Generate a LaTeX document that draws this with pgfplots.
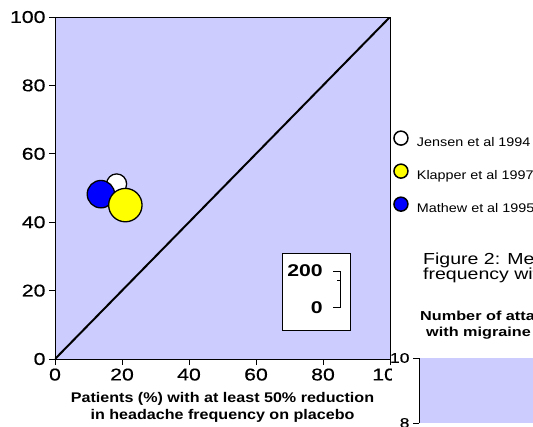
\documentclass[border=0pt]{standalone}
\usepackage{fontspec}
\setmainfont{Liberation Sans}
\newfontfamily\tickf[FakeStretch=1.25,FakeBold=0.5]{Liberation Sans}
\newfontfamily\keyf[FakeStretch=1.25]{Liberation Sans}
\newfontfamily\labf[FakeStretch=1.15]{Liberation Sans}
\newfontfamily\figf[FakeStretch=1.22]{Liberation Sans}
\newfontfamily\figb[FakeStretch=1.25]{Liberation Sans}
\usepackage{pgfplots}
\pgfplotsset{compat=1.18}
\definecolor{lav}{RGB}{204,204,255}
\definecolor{myyellow}{RGB}{255,255,0}
\definecolor{myblue}{RGB}{0,0,255}
\begin{document}
\begin{tikzpicture}
\useasboundingbox (0pt,-426pt) rectangle (533pt,0pt);
\begin{axis}[
  at={(55pt,-359pt)}, anchor=south west,
  scale only axis, width=335pt, height=342pt,
  xmin=0, xmax=100, ymin=0, ymax=100,
  axis background/.style={fill=lav},
  axis line style={black, line width=0.8pt},
  xtick={0,20,40,60,80,100}, ytick={0,20,40,60,80,100},
  xtick pos=left, ytick pos=left,
  tick align=outside, major tick length=6pt,
  tick style={black, line width=0.8pt},
  /pgf/number format/assume math mode=true,
  tick label style={font=\tickf\fontsize{17}{17}\selectfont},
  xlabel={Patients (\%) with at least 50\% reduction\\in headache frequency on placebo},
  xlabel style={align=center, font=\labf\bfseries\fontsize{14}{17}\selectfont,
    at={(axis description cs:0.5,0)}, anchor=north, yshift=-30pt},
  legend style={at={(1.0,0.675)}, anchor=north west, draw=none, fill=none,
    font=\labf\fontsize{12.5}{12.5}\selectfont, row sep=13.5pt, legend cell align=left},
  legend image code/.code={\path[draw=none, fill=none] (0pt,0pt) -- (21pt,0pt);\draw[#1, draw=black, line width=1.5pt] (7pt,4.5pt) circle (7pt);},
]
\addlegendimage{fill=white}
\addlegendentry{Jensen et al 1994}
\addlegendimage{fill=myyellow}
\addlegendentry{Klapper et al 1997}
\addlegendimage{fill=myblue}
\addlegendentry{Mathew et al 1995}
\addplot[black, line width=2pt, forget plot] coordinates {(0,0) (100,100)};
\addplot[only marks, mark=*, mark size=10pt, mark options={draw=black, fill=white, line width=1.3pt}, forget plot] coordinates {(18.4,51.2)};
\addplot[only marks, mark=*, mark size=13.7pt, mark options={draw=black, fill=myblue, line width=1.3pt}, forget plot] coordinates {(13.7,48.2)};
\addplot[only marks, mark=*, mark size=16.7pt, mark options={draw=black, fill=myyellow, line width=1.3pt}, forget plot] coordinates {(21.0,45.0)};
\end{axis}
\fill[white] (391.5pt,-362pt) rectangle (418pt,-426pt);
\begin{axis}[
  at={(419pt,-423pt)}, anchor=south west,
  scale only axis, width=200pt, height=65pt,
  xmin=0, xmax=1, ymin=8, ymax=10,
  axis x line=none, axis y line*=left,
  axis line style={black, line width=0.8pt, -},
  axis background/.style={fill=lav},
  ytick={8,10}, tick align=outside, major tick length=6pt,
  tick style={black, line width=0.8pt},
  /pgf/number format/assume math mode=true,
  tick label style={font=\tickf\fontsize{14}{14}\selectfont},
]
\addplot[draw=none] coordinates {(0,8) (1,10)};
\end{axis}
% size key
\draw[black, fill=white, line width=0.8pt] (282pt,-253pt) rectangle (350pt,-330pt);
\node[anchor=base east, inner sep=0pt, font=\keyf\bfseries\fontsize{17}{17}\selectfont] at (323pt,-276pt) {200};
\node[anchor=base east, inner sep=0pt, font=\keyf\bfseries\fontsize{17}{17}\selectfont] at (323pt,-313pt) {0};
\draw[line width=0.8pt] (333pt,-271pt) -- (340pt,-271pt) -- (340pt,-307pt) -- (333pt,-307pt);
\draw[line width=0.8pt] (337pt,-280pt) -- (340pt,-280pt);
% fragment of following figure
\node[anchor=base west, inner sep=0pt, font=\figf\fontsize{16}{16}\selectfont] at (423pt,-264pt) {Figure 2: Mean attack};
\node[anchor=base west, inner sep=0pt, font=\figf\fontsize{16}{16}\selectfont] at (423pt,-279pt) {frequency with valproate};
\node[anchor=base west, inner sep=0pt, font=\figb\bfseries\fontsize{13}{13}\selectfont] at (420pt,-320pt) {Number of attacks};
\node[anchor=base west, inner sep=0pt, font=\figb\bfseries\fontsize{13}{13}\selectfont] at (426pt,-336pt) {with migraine};
\end{tikzpicture}
\end{document}
